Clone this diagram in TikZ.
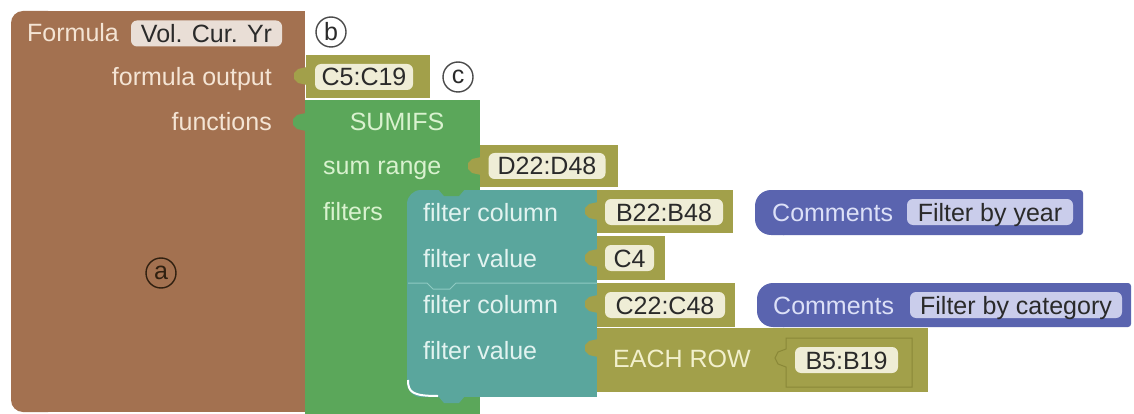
\documentclass[tikz,border=0pt]{standalone}
\usepackage{fontspec}
\setmainfont{Liberation Sans}
\definecolor{brownB}{HTML}{A37150}
\definecolor{brownTxt}{HTML}{F4E4D4}
\definecolor{brownField}{HTML}{E9DED6}
\definecolor{greenB}{HTML}{5BA75A}
\definecolor{greenTxt}{HTML}{D9F2CF}
\definecolor{oliveB}{HTML}{A2A04A}
\definecolor{oliveDark}{HTML}{8A8838}
\definecolor{oliveField}{HTML}{EFEDD6}
\definecolor{oliveTxt}{HTML}{F2F0CC}
\definecolor{tealB}{HTML}{5AA69D}
\definecolor{tealTxt}{HTML}{E2F3F0}
\definecolor{tealLine}{HTML}{8FCAC2}
\definecolor{blueB}{HTML}{5A64AF}
\definecolor{blueTxt}{HTML}{DCE0F7}
\definecolor{blueField}{HTML}{CACDEB}
\definecolor{darkTxt}{HTML}{2A2A2A}
\newcommand{\mytab}[3]{\fill[#1] (#2+1,#3) -- (#2-8,#3+2) -- (#2-12,#3+6) -- (#2-12,#3+12) -- (#2-8,#3+16) -- (#2+1,#3+18) -- cycle;}
\tikzset{
  txt/.style={inner sep=0pt, font=\fontsize{25}{30}\selectfont, text height=18pt, text depth=0pt},
  fieldbox/.style={txt, rounded corners=6pt, minimum height=26pt, text=darkTxt},
  circ/.style={circle, draw, line width=1.4pt, minimum size=30pt, inner sep=0pt, font=\fontsize{25}{30}\selectfont},
}
\begin{document}
\begin{tikzpicture}[x=1pt,y=-1pt]
\useasboundingbox (0,0) rectangle (1134,414);
\fill[white] (0,0) rectangle (1134,414);
% brown formula block
\fill[brownB] (40,11) rectangle (305,412);
\fill[brownB, rounded corners=12pt] (11,11) rectangle (60,412);
% green SUMIFS block
\fill[greenB] (305,100) rectangle (480,414);
\mytab{greenB}{305}{113}
% C5:C19 block
\fill[oliveB] (306,55) rectangle (430,98);
\mytab{oliveB}{306}{67}
% D22:D48 block
\fill[oliveB] (480,145) rectangle (618,187);
\mytab{oliveB}{480}{157}
% teal filter blocks
\fill[tealB] (430,190) rectangle (597,397);
\fill[tealB, rounded corners=14pt] (407,190) rectangle (460,397);
\fill[greenB] (438,189) -- (444,196) -- (459,196) -- (465,189) -- cycle;
\fill[tealB] (438,396) -- (444,403) -- (459,403) -- (465,396) -- cycle;
\draw[tealLine, line width=1pt] (408,283) -- (427,283) -- (433,289) -- (450,289) -- (456,283) -- (597,283);
\draw[white, line width=2pt] (408,380) .. controls (408,392) and (412,396) .. (438,396);
% olive value blocks
\fill[oliveB] (597,190) rectangle (733,233);
\mytab{oliveB}{597}{202}
\fill[oliveB] (597,236) rectangle (665,280);
\mytab{oliveB}{597}{249}
\fill[oliveB] (597,283) rectangle (735,327);
\mytab{oliveB}{597}{295}
\fill[oliveB] (597,328) rectangle (928,392);
\mytab{oliveB}{597}{339}
\draw[oliveDark, line width=1pt] (786,338) -- (912,338) -- (912,387) -- (786,387) -- (786,367) -- (778,364) -- (775,358) -- (778,352) -- (786,349) -- cycle;
% comment blocks
\fill[blueB, rounded corners=16pt] (755,190) rectangle (800,235);
\fill[blueB, rounded corners=3pt] (780,190) rectangle (1083,235);
\fill[blueB, rounded corners=16pt] (757,283) rectangle (800,327);
\fill[blueB, rounded corners=3pt] (780,283) rectangle (1131,327);

% texts
\node[txt, text=brownTxt, anchor=west] (tformula) at (27,33) {Formula};
\node[fieldbox, fill=brownField, minimum width=151pt] (fvol) at (206.5,33.5) {Vol. Cur. Yr};
\node[txt, text=brownTxt, anchor=east] (tout) at (272,77) {formula output};
\node[txt, text=brownTxt, anchor=east] (tfun) at (272,122) {functions};
\node[circ, draw=black!75!brown, text=black!75!brown] (ca) at (161,273) {a};
\node[circ, draw=darkTxt!85, text=darkTxt] (cb) at (331,32) {b};
\node[circ, draw=darkTxt!85, text=darkTxt] (cc) at (458,77) {c};
\node[fieldbox, fill=oliveField, minimum width=98pt] (fc5) at (364,77) {C5:C19};
\node[txt, text=greenTxt] (tsum) at (397,122) {SUMIFS};
\node[txt, text=greenTxt, anchor=west] (trange) at (323,166) {sum range};
\node[txt, text=greenTxt, anchor=west] (tfilt) at (323,211) {filters};
\node[fieldbox, fill=oliveField, minimum width=117pt] (fd22) at (547,166) {D22:D48};
\node[txt, text=tealTxt, anchor=west] (tcol1) at (423,212) {filter column};
\node[txt, text=tealTxt, anchor=west] (tval1) at (423,258) {filter value};
\node[txt, text=tealTxt, anchor=west] (tcol2) at (423,304) {filter column};
\node[txt, text=tealTxt, anchor=west] (tval2) at (423,350) {filter value};
\node[fieldbox, fill=oliveField, minimum width=118pt] (fb22) at (664,212) {B22:B48};
\node[fieldbox, fill=oliveField, minimum width=49pt] (fc4) at (629.5,258) {C4};
\node[fieldbox, fill=oliveField, minimum width=120pt] (fc22) at (665,305) {C22:C48};
\node[txt, text=oliveTxt, anchor=west] (teach) at (613,358) {EACH ROW};
\node[fieldbox, fill=oliveField, minimum width=103pt] (fb5) at (846.5,360) {B5:B19};
\node[txt, text=blueTxt, anchor=west] (tcom1) at (772,212) {Comments};
\node[fieldbox, fill=blueField, minimum width=166pt] (fyear) at (990,212) {Filter by year};
\node[txt, text=blueTxt, anchor=west] (tcom2) at (773,305) {Comments};
\node[fieldbox, fill=blueField, minimum width=212pt] (fcat) at (1016,305) {Filter by category};
\end{tikzpicture}
\end{document}
